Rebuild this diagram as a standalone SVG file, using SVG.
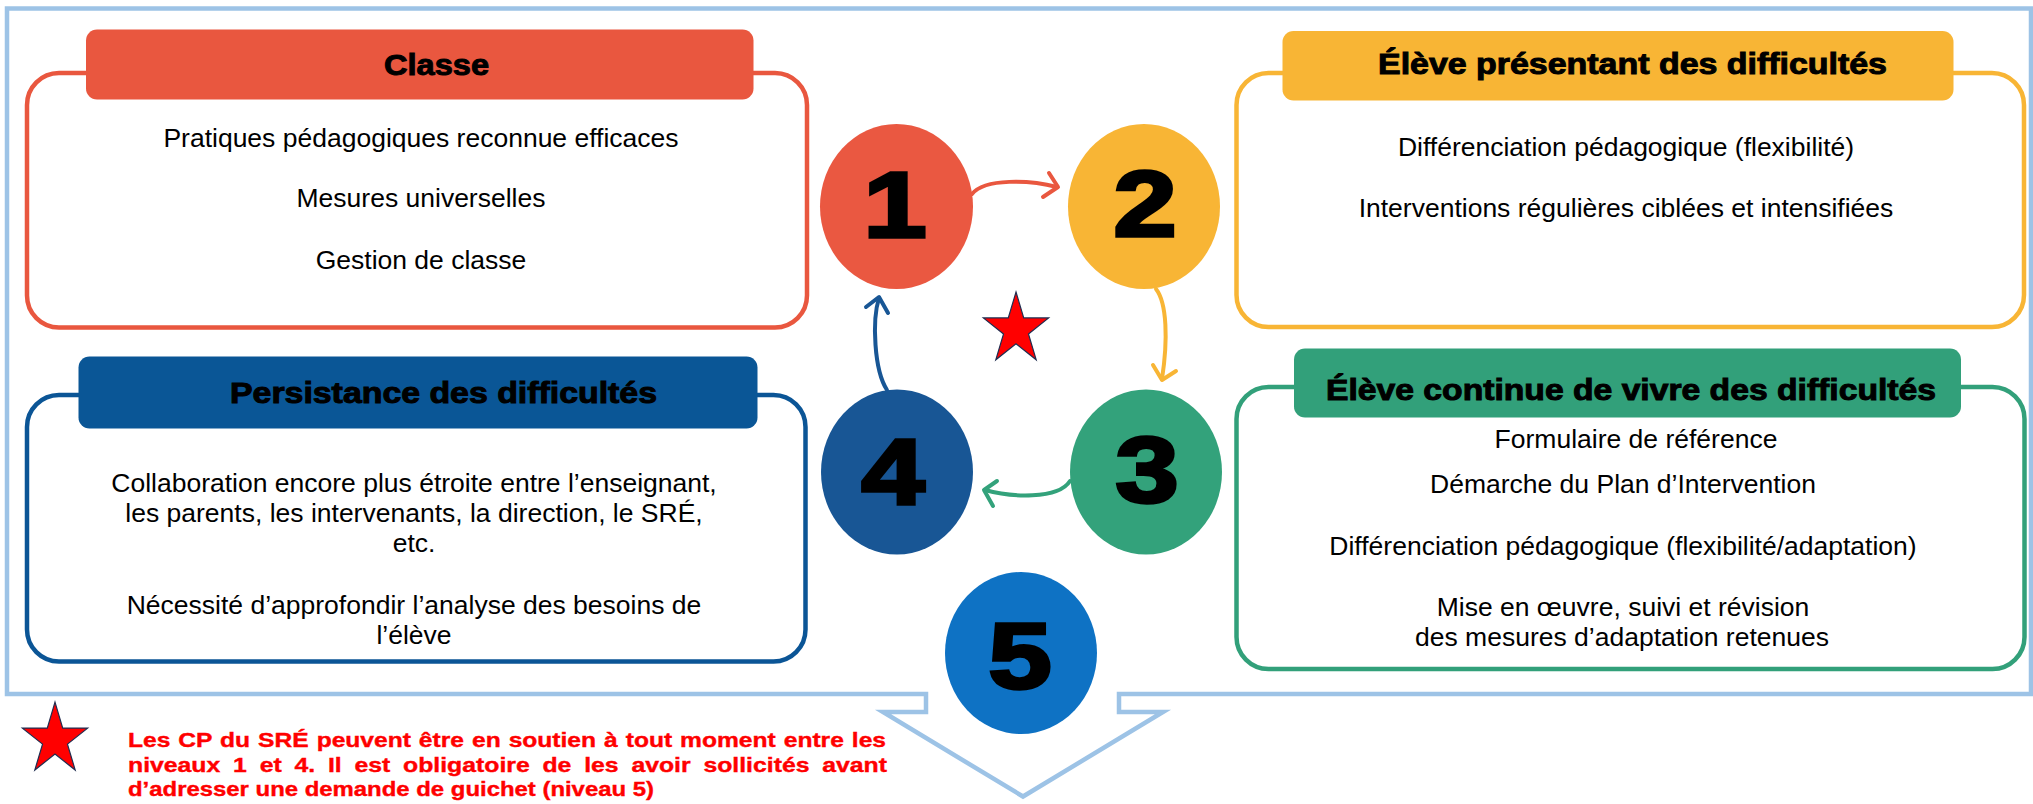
<svg xmlns="http://www.w3.org/2000/svg" xmlns:xlink="http://www.w3.org/1999/xlink" width="2033" height="804" viewBox="0 0 2033 804">
<style>
.body{font-family:"Liberation Sans",Arial,sans-serif;font-size:26.5px;fill:#000;text-anchor:middle}
.title{font-family:"Liberation Sans",Arial,sans-serif;font-size:30px;font-weight:bold;fill:#000;stroke:#000;stroke-width:1;text-anchor:middle}
.num{font-family:"Liberation Sans",Arial,sans-serif;font-size:93px;font-weight:bold;fill:#000;stroke:#000;stroke-width:3.5;text-anchor:middle}
.note{font-family:"Liberation Sans",Arial,sans-serif;font-size:21px;font-weight:bold;fill:#FF0000;stroke:#FF0000;stroke-width:0.4}
.box{fill:#fff;stroke-width:4.5}
.conn{fill:none;stroke-width:4;stroke-linecap:round;stroke-linejoin:round}
.star{fill:#FF0000;stroke:#1F2D50;stroke-width:1.2}
</style>
<defs>
<polygon id="starShape" points="0,-37.5 7.71,-11.59 32.63,-11.59 12.47,4.43 20.18,30.34 0,14.33 -20.18,30.34 -12.47,4.43 -32.63,-11.59 -7.71,-11.59"/>
</defs>
<rect width="2033" height="804" fill="#fff"/>

<g id="frame">
<path d="M7,8.5 H2031 V694 H1119 V712 H1163 L1023,796.5 L883,712 H926 V694 H7 Z" fill="none" stroke="#9DC3E6" stroke-width="4.5" stroke-linejoin="miter"/>
</g>

<g id="box-classe">
<rect class="box" x="27" y="73" width="780" height="254.5" rx="32" stroke="#E9573F"/>
<rect x="86" y="29.5" width="667.5" height="70" rx="11" fill="#E9573F"/>
<text class="title" x="436.5" y="75" textLength="105" lengthAdjust="spacingAndGlyphs">Classe</text>
<text class="body" x="421" y="147">Pratiques pédagogiques reconnue efficaces</text>
<text class="body" x="421" y="207">Mesures universelles</text>
<text class="body" x="421" y="269">Gestion de classe</text>
</g>

<g id="box-eleve-presentant">
<rect class="box" x="1236.5" y="73" width="787.5" height="254" rx="32" stroke="#F8B535"/>
<rect x="1282.5" y="31" width="671" height="69.5" rx="11" fill="#F8B535"/>
<text class="title" x="1632.5" y="74" textLength="509" lengthAdjust="spacingAndGlyphs">Élève présentant des difficultés</text>
<text class="body" x="1626" y="156">Différenciation pédagogique (flexibilité)</text>
<text class="body" x="1626" y="217">Interventions régulières ciblées et intensifiées</text>
</g>

<g id="box-persistance">
<rect class="box" x="27" y="395" width="778.5" height="266.5" rx="32" stroke="#0B5596"/>
<rect x="78.5" y="356.5" width="679" height="72" rx="11" fill="#0A5696"/>
<text class="title" x="443.5" y="403" textLength="427" lengthAdjust="spacingAndGlyphs">Persistance des difficultés</text>
<text class="body" x="414" y="492">Collaboration encore plus étroite entre l’enseignant,</text>
<text class="body" x="414" y="522">les parents, les intervenants, la direction, le SRÉ,</text>
<text class="body" x="414" y="552">etc.</text>
<text class="body" x="414" y="614">Nécessité d’approfondir l’analyse des besoins de</text>
<text class="body" x="414" y="644">l’élève</text>
</g>

<g id="box-eleve-continue">
<rect class="box" x="1236.5" y="387" width="788" height="282" rx="32" stroke="#32A07A"/>
<rect x="1294" y="348.5" width="667" height="69" rx="11" fill="#32A07A"/>
<text class="title" x="1631" y="400" textLength="610" lengthAdjust="spacingAndGlyphs">Élève continue de vivre des difficultés</text>
<text class="body" x="1636" y="448">Formulaire de référence</text>
<text class="body" x="1623" y="493">Démarche du Plan d’Intervention</text>
<text class="body" x="1623" y="555">Différenciation pédagogique (flexibilité/adaptation)</text>
<text class="body" x="1623" y="616">Mise en œuvre, suivi et révision</text>
<text class="body" x="1622" y="646">des mesures d’adaptation retenues</text>
</g>

<g id="connectors">
<path class="conn" stroke="#E9573F" d="M972,194 C985,178 1030,180 1057,187"/>
<path class="conn" stroke="#E9573F" d="M1049,173 L1058,187 L1043,197"/>
<path class="conn" stroke="#F8B535" d="M1156,289 C1167,303 1168,340 1162,379"/>
<path class="conn" stroke="#F8B535" d="M1153,365 L1162,380 L1176,371"/>
<path class="conn" stroke="#33A27B" d="M1070,481 C1058,500 1010,497 985,490"/>
<path class="conn" stroke="#33A27B" d="M997,481 L984,490 L993,506"/>
<path class="conn" stroke="#185695" d="M887,390 C874,370 872,320 879,298"/>
<path class="conn" stroke="#185695" d="M866,307 L879,297 L888,313"/>
</g>

<g id="node-1">
<ellipse cx="896.5" cy="206.5" rx="76.5" ry="82.5" fill="#EA5841"/>
<text class="num" transform="translate(895,237) scale(1.22,1)">1</text>
</g>
<g id="node-2">
<ellipse cx="1144" cy="206.5" rx="76" ry="82.5" fill="#F8B535"/>
<text class="num" transform="translate(1145,236) scale(1.22,1)">2</text>
</g>
<g id="node-3">
<ellipse cx="1146" cy="472" rx="76" ry="82.5" fill="#33A27B"/>
<text class="num" transform="translate(1147,502) scale(1.22,1)">3</text>
</g>
<g id="node-4">
<ellipse cx="897" cy="472" rx="76" ry="82.5" fill="#185695"/>
<text class="num" transform="translate(893,504) scale(1.22,1)">4</text>
</g>
<g id="node-5">
<ellipse cx="1021" cy="653" rx="76" ry="81" fill="#0E72C4"/>
<text class="num" transform="translate(1020,688) scale(1.22,1)">5</text>
</g>

<g id="star-center">
<use xlink:href="#starShape" href="#starShape" class="star" x="1016" y="329.5"/>
</g>

<g id="note">
<use xlink:href="#starShape" href="#starShape" class="star" x="55" y="739.7"/>
<text class="note" x="128" y="747" textLength="758" lengthAdjust="spacingAndGlyphs" word-spacing="1">Les CP du SRÉ peuvent être en soutien à tout moment entre les</text>
<text class="note" x="128" y="772" textLength="759" lengthAdjust="spacingAndGlyphs" word-spacing="5">niveaux 1 et 4. Il est obligatoire de les avoir sollicités avant</text>
<text class="note" x="128" y="796" textLength="526" lengthAdjust="spacingAndGlyphs">d’adresser une demande de guichet (niveau 5)</text>
</g>
</svg>
